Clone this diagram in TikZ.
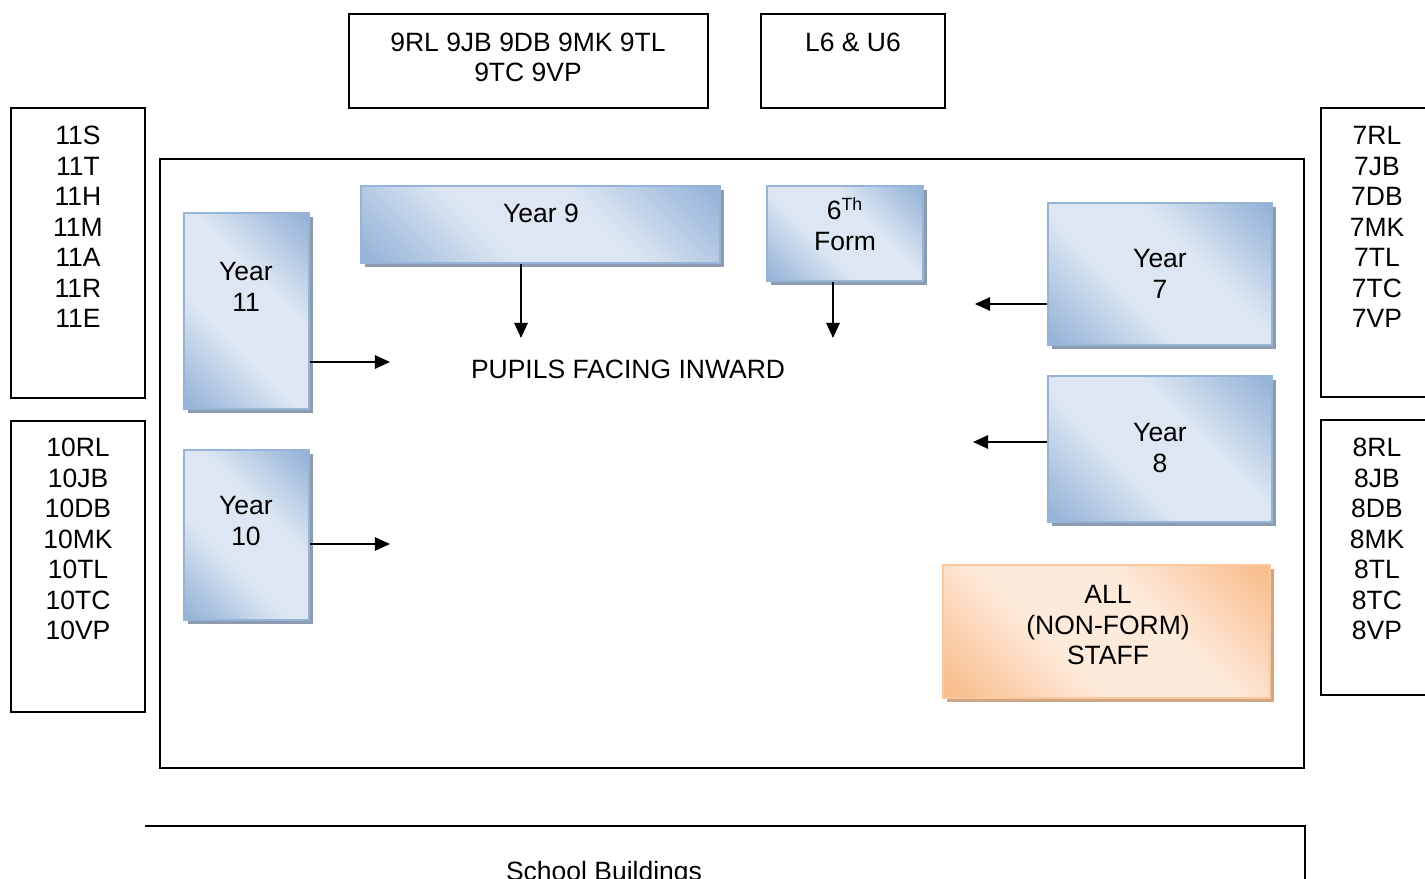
\documentclass[tikz,border=0pt]{standalone}
\usepackage{fontspec}
\setmainfont{Liberation Sans}
\usetikzlibrary{arrows.meta,shadows,fit}
\definecolor{yrdark}{RGB}{149,179,215}
\definecolor{yrlight}{RGB}{221,231,243}
\definecolor{yrline}{RGB}{150,180,216}
\definecolor{yrshadow}{RGB}{141,155,176}
\definecolor{stdark}{RGB}{249,189,140}
\definecolor{stlight}{RGB}{253,234,218}
\definecolor{stline}{RGB}{251,200,158}
\definecolor{stshadow}{RGB}{206,166,132}
\pgfdeclarehorizontalshading{yrshade}{100bp}{color(0bp)=(yrdark); color(16bp)=(yrdark); color(40bp)=(yrlight); color(60bp)=(yrlight); color(84bp)=(yrdark); color(100bp)=(yrdark)}
\pgfdeclarehorizontalshading{stshade}{100bp}{color(0bp)=(stdark); color(16bp)=(stdark); color(40bp)=(stlight); color(60bp)=(stlight); color(84bp)=(stdark); color(100bp)=(stdark)}
\tikzset{
  plainbox/.style={draw, line width=0.85pt, inner sep=0pt},
  yearbox/.style={draw=yrline, line width=0.6pt, inner sep=0pt, shading=yrshade, shading angle=45,
    drop shadow={shadow xshift=1.6pt, shadow yshift=-1.8pt, fill=yrshadow, opacity=1}},
  staffbox/.style={draw=stline, line width=0.6pt, inner sep=0pt, shading=stshade, shading angle=45,
    drop shadow={shadow xshift=1.6pt, shadow yshift=-1.8pt, fill=stshadow, opacity=1}},
  lbl/.style={align=center, inner sep=0pt, text depth=0pt, font=\fontsize{12}{13.8}\selectfont},
  pointer/.style={line width=0.85pt, -{Triangle[length=6.8pt,width=6pt]}}
}
\begin{document}
\begin{tikzpicture}[x=0.453pt,y=0.453pt,yscale=-1]
\useasboundingbox (0,0) rectangle (1425,879);
\clip (0,0) rectangle (1425,879);
% form lists round the yard
\node[plainbox, fit={(349,14) (708,108)}] (nine) {};
\node[plainbox, fit={(761,14) (945,108)}] (sixth) {};
\node[plainbox, fit={(11,108) (145,398)}] (eleven) {};
\node[plainbox, fit={(11,421) (145,712)}] (ten) {};
\node[plainbox, fit={(1321,108) (1440,397)}] (seven) {};
\node[plainbox, fit={(1321,420) (1440,695)}] (eight) {};
\node[lbl] (ninet) at (528,57) {9RL 9JB 9DB 9MK 9TL\\9TC 9VP};
\node[lbl] (sixtht) at (853,42) {L6 \& U6};
\node[lbl] (elevent) at (78,227) {11S\\11T\\11H\\11M\\11A\\11R\\11E};
\node[lbl] (tent) at (78,539) {10RL\\10JB\\10DB\\10MK\\10TL\\10TC\\10VP};
\node[lbl] (sevent) at (1377,227) {7RL\\7JB\\7DB\\7MK\\7TL\\7TC\\7VP};
\node[lbl] (eightt) at (1377,539) {8RL\\8JB\\8DB\\8MK\\8TL\\8TC\\8VP};
% the yard
\node[plainbox, fit={(160,159) (1304,768)}] (yard) {};
\node[yearbox, fit={(184,213) (309,409)}] (yr11) {};
\node[yearbox, fit={(184,450) (309,620)}] (yr10) {};
\node[yearbox, fit={(361,186) (720,263)}] (yr9) {};
\node[yearbox, fit={(767,186) (923,281)}] (form6) {};
\node[yearbox, fit={(1048,203) (1272,345)}] (yr7) {};
\node[yearbox, fit={(1048,376) (1272,522)}] (yr8) {};
\node[staffbox, fit={(943,565) (1270,698)}] (staff) {};
\node[lbl] (yr11t) at (246,287) {Year\\11};
\node[lbl] (yr10t) at (246,521) {Year\\10};
\node[lbl] (yr9t) at (541,213) {Year 9};
\node[lbl] (form6t) at (845,224) {6\textsuperscript{Th}\\Form};
\node[lbl] (yr7t) at (1160,274) {Year\\7};
\node[lbl] (yr8t) at (1160,448) {Year\\8};
\node[lbl] (stafft) at (1108,625) {ALL\\(NON-FORM)\\STAFF};
\node[lbl] (pupils) at (628,369) {PUPILS FACING INWARD};
% arrow ends
\coordinate (in11) at (390,362);
\coordinate (in10) at (390,544);
\coordinate (in9) at (521,338);
\coordinate (in6) at (833,338);
\coordinate (in7) at (975,304);
\coordinate (in8) at (973,442);
\draw[pointer] (yr11.east |- in11) -- (in11);
\draw[pointer] (yr10.east |- in10) -- (in10);
\draw[pointer] (yr9.south -| in9) -- (in9);
\draw[pointer] (form6.south -| in6) -- (in6);
\draw[pointer] (yr7.west |- in7) -- (in7);
\draw[pointer] (yr8.west |- in8) -- (in8);
% school buildings
\draw[line width=0.9pt] (145,826) -- (1305,826) -- (1305,900);
\node[lbl] (school) at (604,871) {School Buildings};
\end{tikzpicture}
\end{document}
